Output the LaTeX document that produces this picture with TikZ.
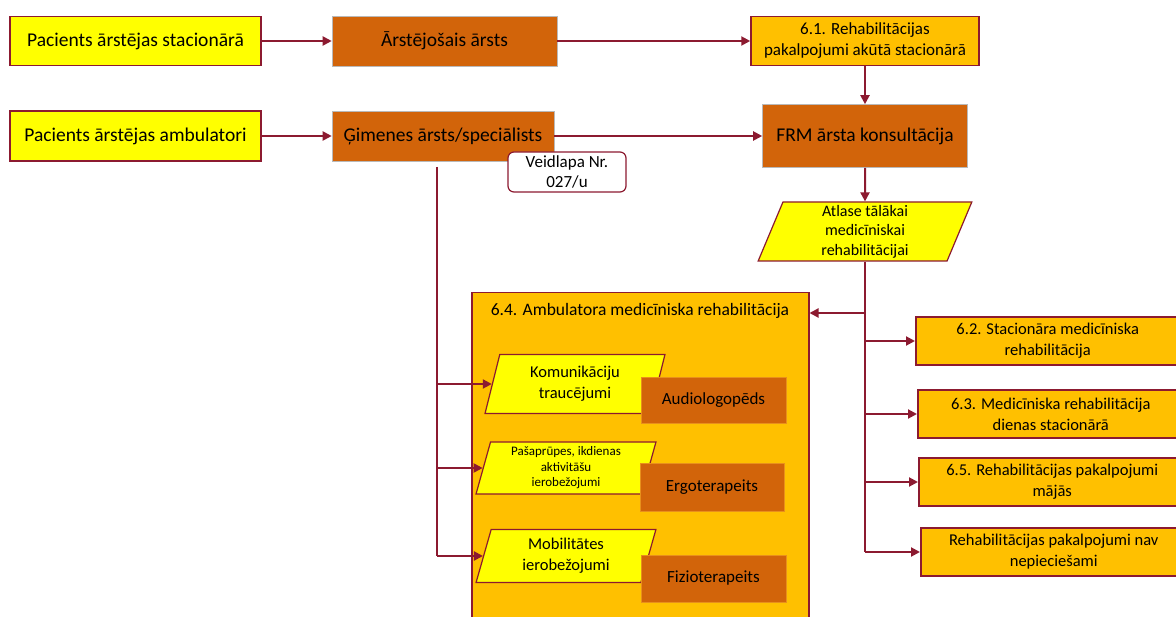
\documentclass[tikz,border=0pt]{standalone}
\usepackage{fontspec}
\setmainfont{Carlito}
\usetikzlibrary{arrows.meta,shapes.geometric}
\definecolor{yel}{HTML}{FFFF00}
\definecolor{gold}{HTML}{FFC000}
\definecolor{org}{HTML}{D2640A}
\definecolor{dred}{HTML}{8C1A30}
\definecolor{oedge}{HTML}{E8901C}
\tikzset{
 base/.style={rectangle, align=center, inner sep=1pt, text=black},
 ybox/.style={base, fill=yel, draw=dred, line width=1.5pt},
 gbox/.style={base, fill=gold, draw=dred, line width=1.5pt},
 obox/.style={base, fill=org, draw=gray!55, line width=0.6pt},
 ibox/.style={base, fill=org, draw=oedge, line width=0.8pt},
 para/.style={trapezium, trapezium left angle=76, trapezium right angle=104, trapezium stretches=true, fill=yel, draw=dred, line width=1.2pt, align=center, inner sep=0pt},
 form/.style={base, fill=white, draw=dred, line width=1.2pt, rounded corners=6pt},
 conn/.style={draw=dred, line width=2pt, -{Triangle[length=9pt,width=9pt]}},
 trunk/.style={draw=dred, line width=2pt},
 big/.style={font=\fontsize{19.5}{23}\selectfont},
 mid/.style={font=\fontsize{16.5}{21}\selectfont},
}
\begin{document}
\begin{tikzpicture}[x=1pt,y=-1pt]
\useasboundingbox (0,0) rectangle (1176,617);
\clip (0,0) rectangle (1176,617);
\fill[white] (0,0) rectangle (1176,617);

% top row
\node[ybox, big, minimum width=251, minimum height=49] (A) at (135.5,41) {Pacients ārstējas stacionārā};
\node[obox, big, minimum width=225, minimum height=50] (B) at (444.5,41) {Ārstējošais ārsts};
\node[gbox, minimum width=228, minimum height=49, font=\fontsize{17}{21}\selectfont] (C) at (865,41) {6.1. Rehabilitācijas\\pakalpojumi akūtā stacionārā};

% second row
\node[ybox, big, minimum width=251, minimum height=50] (D) at (135.5,136) {Pacients ārstējas ambulatori};
\node[obox, big, minimum width=222, minimum height=50] (E) at (443,136) {Ģimenes ārsts/speciālists};
\node[obox, big, minimum width=205, minimum height=63] (F) at (865,136) {FRM ārsta konsultācija};
\node[form, minimum width=118, minimum height=40, font=\fontsize{17}{20}\selectfont] (V) at (567,172) {Veidlapa Nr.\\027/u};

\node[para, minimum width=214, minimum height=59, font=\fontsize{16}{19.5}\selectfont] (S) at (865,231.5) {Atlase tālākai\\medicīniskai\\rehabilitācijai};

% 6.4 box
\node[gbox, minimum width=337, minimum height=340, anchor=north west] (G) at (471,292) {};
\node[font=\fontsize{17.5}{21}\selectfont] (GT) at (640,311) {6.4. Ambulatora medicīniska rehabilitācija};

\node[para, mid, minimum width=180, minimum height=59] (P1) at (575,384) {Komunikāciju\\traucējumi};
\node[para, minimum width=180, minimum height=52, font=\fontsize{13}{15.5}\selectfont] (P2) at (566,468) {Pašaprūpes, ikdienas\\aktivitāšu\\ierobežojumi};
\node[para, mid, minimum width=180, minimum height=53] (P3) at (566,556) {Mobilitātes\\ierobežojumi};

\node[ibox, minimum width=145, minimum height=46, font=\fontsize{17}{20}\selectfont] (O1) at (713.5,400) {Audiologopēds};
\node[ibox, minimum width=144, minimum height=48, font=\fontsize{17}{20}\selectfont] (O2) at (712,487) {Ergoterapeits};
\node[ibox, minimum width=145, minimum height=47, font=\fontsize{17}{20}\selectfont] (O3) at (713.5,578.5) {Fizioterapeits};

% right boxes
\node[gbox, mid, minimum width=264, minimum height=48, anchor=west] (R1) at (915,341) {6.2. Stacionāra medicīniska\\rehabilitācija};
\node[gbox, mid, minimum width=266, minimum height=48, anchor=west] (R2) at (917,414) {6.3. Medicīniska rehabilitācija\\dienas stacionārā};
\node[gbox, mid, minimum width=267, minimum height=48, anchor=west] (R3) at (918,482) {6.5. Rehabilitācijas pakalpojumi\\mājās};
\node[gbox, mid, minimum width=266, minimum height=48, anchor=west] (R4) at (920,552) {Rehabilitācijas pakalpojumi nav\\nepieciešami};

% connectors
\draw[conn] (A) -- (B);
\draw[conn] (B) -- (C);
\draw[conn] (D) -- (E);
\draw[conn] (E) -- (F);
\draw[conn] (C) -- (F);
\draw[conn] (F) -- (S);

\draw[trunk] (S.south) -- (S.south |- R4.west);
\coordinate (J) at (865,313);
\draw[conn] (J) -- (J -| G.east);
\foreach \r in {R1,R2,R3,R4}{
  \draw[conn] (S.south |- \r.west) -- (\r.west);
}

\coordinate (L) at (437,167);
\draw[trunk] (L) -- (L |- P3.west);
\foreach \p in {P1,P2,P3}{
  \draw[conn] (L |- \p.west) -- (\p.west);
}
\end{tikzpicture}
\end{document}
